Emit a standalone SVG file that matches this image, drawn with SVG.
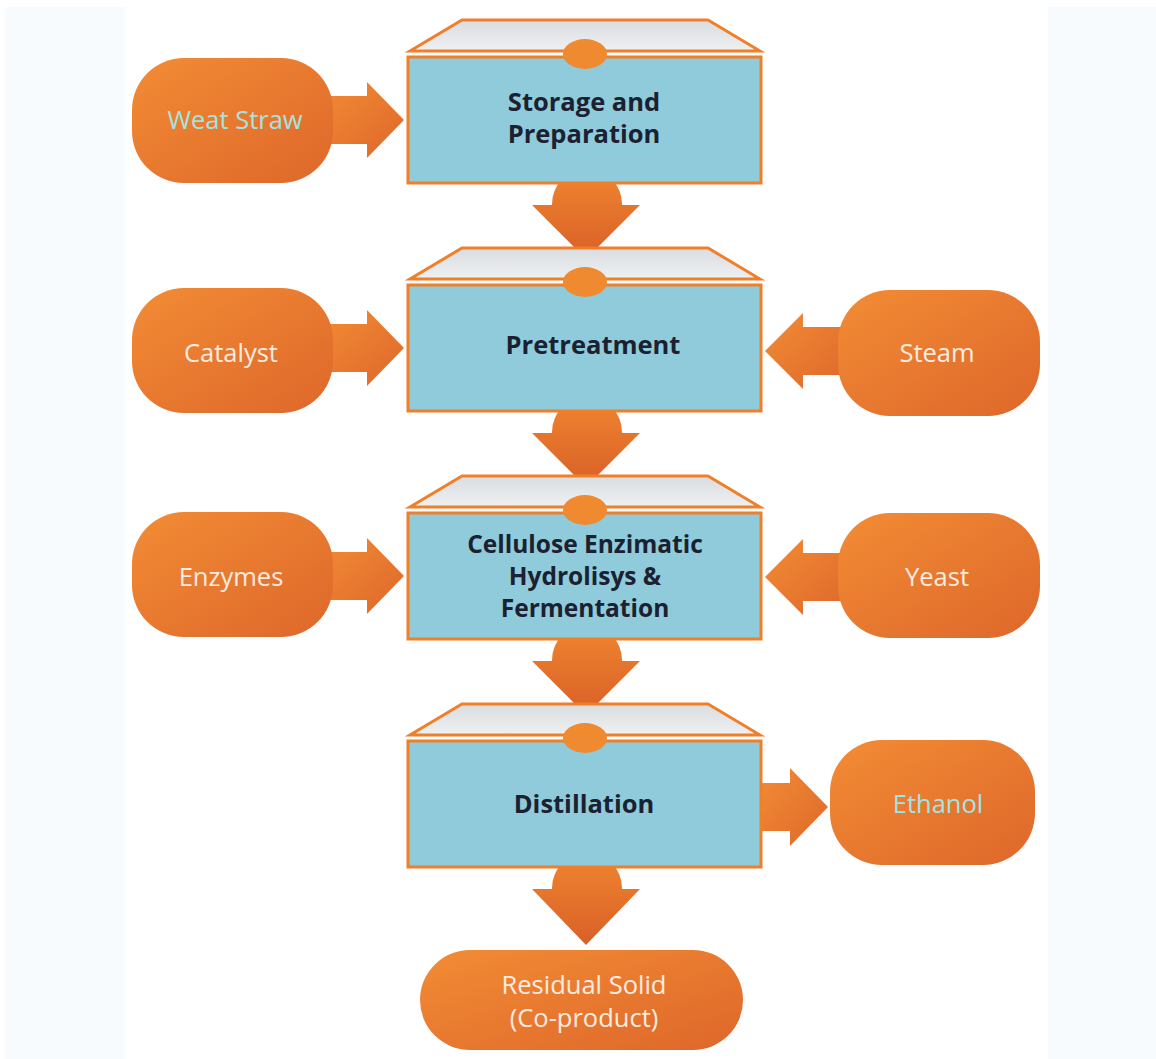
<svg xmlns="http://www.w3.org/2000/svg" width="1156" height="1059" viewBox="0 0 1156 1059">
<defs>
<linearGradient id="og" x1="0" y1="0" x2="1" y2="1">
<stop offset="0" stop-color="#f28c35"/>
<stop offset="1" stop-color="#de672a"/>
</linearGradient>
<linearGradient id="ogv" x1="0" y1="0" x2="0" y2="1">
<stop offset="0" stop-color="#f08630"/>
<stop offset="1" stop-color="#d95f27"/>
</linearGradient>
<linearGradient id="lid" x1="0" y1="0" x2="0" y2="1">
<stop offset="0" stop-color="#dadde0"/>
<stop offset="1" stop-color="#eef0f2"/>
</linearGradient>
<style>
.pill{fill:url(#og);}
.arr{fill:url(#og);}
.varr{fill:url(#ogv);}
.body{fill:#8fcbda;stroke:#f07f2a;stroke-width:3;}
.lid{fill:url(#lid);stroke:#f07f2a;stroke-width:3;stroke-linejoin:miter;}
.knob{fill:#f08a30;}
.bt{font-family:"Open Sans","Noto Sans",sans-serif;font-weight:700;font-size:25.5px;fill:#1b2130;text-anchor:middle;}
.sm{font-size:24.5px;}
.pt{font-family:"Open Sans","Noto Sans",sans-serif;font-size:25.5px;text-anchor:middle;}
.cy{fill:#a2e4e2;}
.wh{fill:#fcece0;}
</style>
</defs>
<rect x="0" y="0" width="1156" height="1059" fill="#ffffff"/>
<rect x="5" y="7" width="120" height="1052" fill="#f7fbfe"/>
<rect x="1048" y="7" width="108" height="1052" fill="#f7fbfe"/>

<g id="connectors">
<path class="arr" d="M320,96 H367 V82 L404,120 L367,158 V144 H320 Z"/>
<path class="arr" d="M320,324 H367 V310 L404,348 L367,386 V372 H320 Z"/>
<path class="arr" d="M320,552 H367 V538 L404,576 L367,614 V600 H320 Z"/>
<path class="arr" d="M850,327 H803 V313 L765,351 L803,389 V375 H850 Z"/>
<path class="arr" d="M850,553 H803 V539 L765,577 L803,615 V601 H850 Z"/>
<path class="arr" d="M762,783 H790 V768 L828,807 L790,846 V831 H762 Z"/>
<path class="varr" d="M552,205 V204 A35,35 0 0 1 622,204 V205 H640 L586,259 L532,205 Z"/>
<path class="varr" d="M552,433 V432 A35,35 0 0 1 622,432 V433 H640 L586,487 L532,433 Z"/>
<path class="varr" d="M552,661 V660 A35,35 0 0 1 622,660 V661 H640 L586,715 L532,661 Z"/>
<path class="varr" d="M552,889 V888 A35,35 0 0 1 622,888 V889 H640 L586,945 L532,889 Z"/>
</g>

<g id="box-storage">
<path class="lid" d="M410,51 L462,20 H708 L760,51 Z"/>
<rect class="body" x="408" y="57" width="353" height="126"/>
<ellipse class="knob" cx="585" cy="54" rx="22" ry="15"/>
<text class="bt" x="584" y="111">Storage and</text>
<text class="bt" x="584" y="143">Preparation</text>
</g>

<g id="box-pretreatment">
<path class="lid" d="M410,279 L462,248 H708 L760,279 Z"/>
<rect class="body" x="408" y="285" width="353" height="126"/>
<ellipse class="knob" cx="585" cy="282" rx="22" ry="15"/>
<text class="bt" x="593" y="354">Pretreatment</text>
</g>

<g id="box-hydrolysis">
<path class="lid" d="M410,507 L462,476 H708 L760,507 Z"/>
<rect class="body" x="408" y="513" width="353" height="126"/>
<ellipse class="knob" cx="585" cy="510" rx="22" ry="15"/>
<text class="bt sm" x="585" y="553">Cellulose Enzimatic</text>
<text class="bt sm" x="585" y="585">Hydrolisys &amp;</text>
<text class="bt sm" x="585" y="617">Fermentation</text>
</g>

<g id="box-distillation">
<path class="lid" d="M410,735 L462,704 H708 L760,735 Z"/>
<rect class="body" x="408" y="741" width="353" height="126"/>
<ellipse class="knob" cx="585" cy="738" rx="22" ry="15"/>
<text class="bt" x="584" y="813">Distillation</text>
</g>

<g id="in-wheat-straw">
<rect class="pill" x="132" y="58" width="201" height="125" rx="52"/>
<text class="pt cy" x="235" y="129">Weat Straw</text>
</g>
<g id="in-catalyst">
<rect class="pill" x="132" y="288" width="201" height="125" rx="52"/>
<text class="pt wh" x="231" y="362">Catalyst</text>
</g>
<g id="in-steam">
<rect class="pill" x="838" y="290" width="202" height="126" rx="52"/>
<text class="pt wh" x="937" y="362">Steam</text>
</g>
<g id="in-enzymes">
<rect class="pill" x="132" y="512" width="201" height="125" rx="52"/>
<text class="pt wh" x="231" y="586">Enzymes</text>
</g>
<g id="in-yeast">
<rect class="pill" x="838" y="513" width="202" height="125" rx="52"/>
<text class="pt wh" x="937" y="586">Yeast</text>
</g>
<g id="out-ethanol">
<rect class="pill" x="830" y="740" width="205" height="125" rx="52"/>
<text class="pt cy" x="938" y="813">Ethanol</text>
</g>
<g id="out-residual">
<rect class="pill" x="420" y="950" width="323" height="100" rx="50"/>
<text class="pt wh" x="584" y="994">Residual Solid</text>
<text class="pt wh" x="584" y="1027">(Co-product)</text>
</g>
</svg>
